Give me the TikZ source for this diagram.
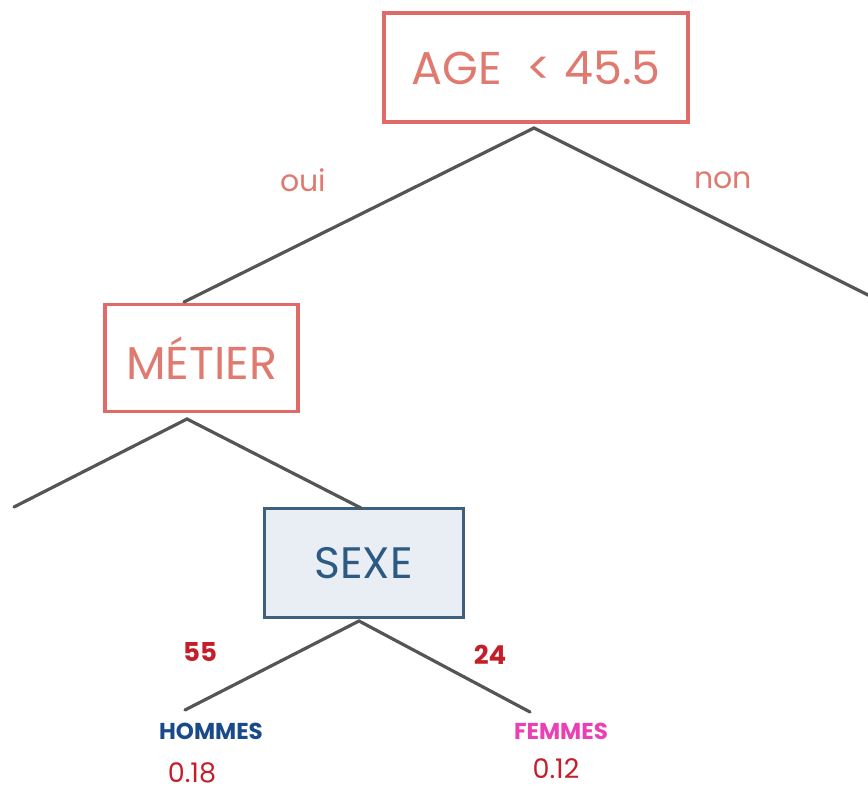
\documentclass[tikz,border=0pt]{standalone}
\usepackage{fontspec}
\setmainfont{Poppins}
\definecolor{boxred}{HTML}{E06B66}
\definecolor{textred}{HTML}{E07A70}
\definecolor{lblred}{HTML}{E07A70}
\definecolor{numred}{HTML}{C41E2A}
\definecolor{edgegray}{HTML}{555555}
\definecolor{sexfill}{HTML}{E9EEF4}
\definecolor{sexdraw}{HTML}{3C607E}
\definecolor{sextext}{HTML}{2D5A82}
\definecolor{menblue}{HTML}{1A4A8A}
\definecolor{womenpink}{HTML}{E940B5}
\begin{document}
\begin{tikzpicture}[x=1pt,y=-1pt,
  redbox/.style={draw=boxred, line width=3.5pt, fill=white, inner sep=0pt,
    text=textred, font=\fontsize{46}{46}\selectfont},
  bluebox/.style={draw=sexdraw, line width=3pt, fill=sexfill, inner sep=0pt,
    text=sextext, font=\fontsize{44}{44}\selectfont},
  branch/.style={draw=edgegray, line width=3.2pt, line cap=round},
  edgelbl/.style={text=lblred, font=\fontsize{30}{30}\selectfont},
  count/.style={text=numred, font=\bfseries\fontsize{26}{26}\selectfont},
  leaf/.style={font=\bfseries\fontsize{23}{23}\selectfont},
  prob/.style={text=numred, inner sep=0pt, font=\fontsize{27}{27}\selectfont}]
\useasboundingbox (0,0) rectangle (868,791);

% decision nodes
\node[redbox, minimum width=304pt, minimum height=109pt] (age) at (536,67.5) {AGE\ \ < 45.5};
\node[redbox, minimum width=193pt, minimum height=107pt] (metier) at (201.5,358) {MÉTIER};
\node[bluebox, minimum width=199pt, minimum height=109pt] (sexe) at (363.5,563) {SEXE};

% branch end points
\coordinate (ageJ) at (534,128);
\coordinate (metTop) at (184,302);
\coordinate (ageR) at (870,296);
\coordinate (metJ) at (187,419);
\coordinate (metL) at (14,507);
\coordinate (sexTop) at (361,508);
\coordinate (sexJ) at (359,621);
\coordinate (menTop) at (185,710);
\coordinate (womenTop) at (530,712);

% branches
\draw[branch] (metTop) -- (ageJ) -- (ageR);
\draw[branch] (metL) -- (metJ) -- (sexTop);
\draw[branch] (menTop) -- (sexJ) -- (womenTop);

% branch labels
\node[edgelbl] (oui) at (303,180) {oui};
\node[edgelbl] (non) at (723,180) {non};
\node[count] (n55) at (200,652) {55};
\node[count] (n24) at (490,655) {24};

% leaves
\node[leaf, text=menblue] (hommes) at (211,731) {HOMMES};
\node[leaf, text=womenpink] (femmes) at (561,731) {FEMMES};
\node[prob] (p18) at (192,773) {0.18};
\node[prob] (p12) at (556,769) {0.12};
\end{tikzpicture}
\end{document}
